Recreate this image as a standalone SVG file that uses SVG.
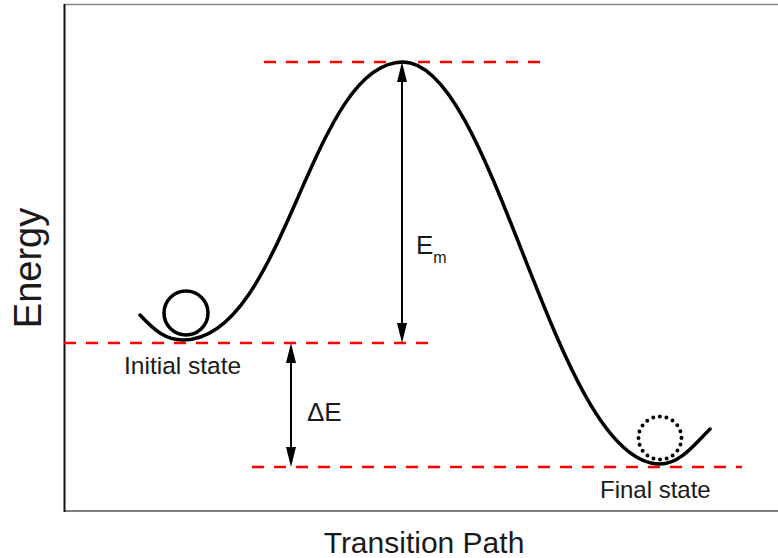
<svg xmlns="http://www.w3.org/2000/svg" width="778" height="558" viewBox="0 0 778 558">
<style>
.dash{stroke:#ff0000;stroke-width:2.5;stroke-dasharray:12 10;fill:none}
.curve{stroke:#000;stroke-width:3.5;fill:none;stroke-linecap:round}
.arr{stroke:#000;stroke-width:2;fill:none}
.lbl{font-family:"Liberation Sans",Arial,sans-serif;fill:#1a1a1a}
</style>
<rect width="778" height="558" fill="#fff"/>
<g id="axes">
<line x1="64" y1="4.5" x2="778" y2="4.5" stroke="#888" stroke-width="1.5"/>
<line x1="64" y1="511" x2="778" y2="511" stroke="#555" stroke-width="1.5"/>
<line x1="64.5" y1="4" x2="64.5" y2="512" stroke="#111" stroke-width="2"/>
<text class="lbl" x="424" y="553" font-size="30" text-anchor="middle">Transition Path</text>
<text class="lbl" transform="translate(41,268) rotate(-90)" font-size="38" text-anchor="middle">Energy</text>
</g>
<g id="levels">
<line class="dash" x1="264" y1="62" x2="542" y2="62"/>
<line class="dash" x1="64" y1="343" x2="432" y2="343"/>
<line class="dash" x1="252" y1="467" x2="742" y2="467"/>
</g>
<g id="curve">
<path class="curve" d="M140,315 C155,331 166,340 183,340 C285,340 310,62 403,62 C495,62 555,464 660,464 C680,464 695,444 710,429"/>
</g>
<g id="initial">
<circle cx="186" cy="313" r="22" fill="none" stroke="#000" stroke-width="3.5"/>
<text class="lbl" x="124" y="374" font-size="24.5">Initial state</text>
</g>
<g id="final">
<circle cx="660" cy="438" r="21.5" fill="none" stroke="#000" stroke-width="4" stroke-dasharray="0 6.7" stroke-linecap="round"/>
<text class="lbl" x="600" y="498" font-size="24">Final state</text>
</g>
<g id="connectors">
<line class="arr" x1="402" y1="80" x2="402" y2="325"/>
<path d="M402,62 L397,82 L407,82 z" fill="#000"/>
<path d="M402,343 L397,323 L407,323 z" fill="#000"/>
<line class="arr" x1="291" y1="360" x2="291" y2="450"/>
<path d="M291,343 L286,363 L296,363 z" fill="#000"/>
<path d="M291,467 L286,447 L296,447 z" fill="#000"/>
</g>
<g id="labels">
<text class="lbl" x="307" y="421" font-size="26">ΔE</text>
<text class="lbl" x="416" y="254" font-size="26">E<tspan font-size="16" dy="9">m</tspan></text>
</g>
</svg>
